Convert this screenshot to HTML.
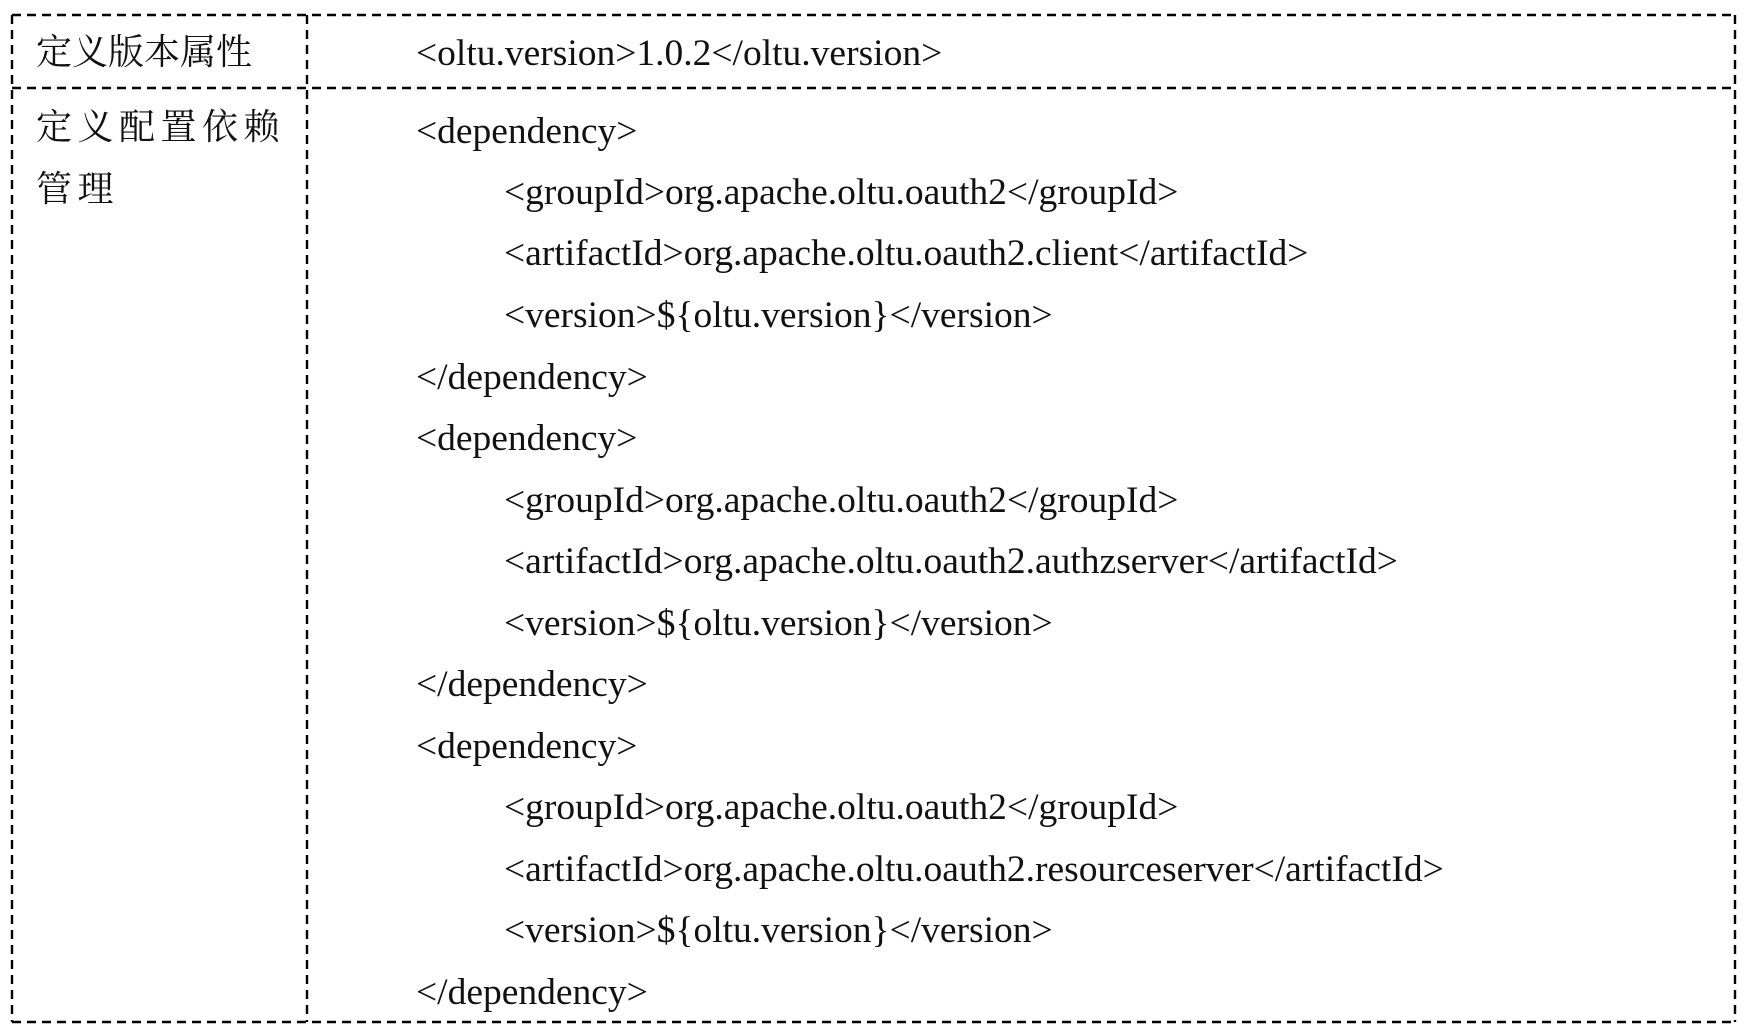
<!DOCTYPE html>
<html><head><meta charset="utf-8"><style>
html,body{margin:0;padding:0;background:#fff;width:1755px;height:1034px;overflow:hidden;position:relative}
.t{position:absolute;font-family:"Liberation Serif","Noto Serif CJK SC",serif;font-size:37.5px;color:#111;white-space:pre;line-height:40px}
.c{font-family:"Liberation Serif","Noto Serif CJK SC",serif;font-size:36px}
</style></head><body>
<svg width="1755" height="1034" style="position:absolute;left:0;top:0">
<g stroke="#000" stroke-width="2.4" stroke-dasharray="9 6" fill="none">
<line x1="12" y1="15" x2="1735" y2="15"/>
<line x1="12" y1="88" x2="1735" y2="88"/>
<line x1="12" y1="1022" x2="1735" y2="1022"/>
<line x1="12" y1="15" x2="12" y2="1022"/>
<line x1="307" y1="15" x2="307" y2="1022"/>
<line x1="1735" y1="15" x2="1735" y2="1022"/>
</g></svg>
<div class="t c" style="left:36px;top:32px">定义版本属性</div>
<div class="t c" style="left:36px;top:107px;letter-spacing:5.5px">定义配置依赖</div>
<div class="t c" style="left:36px;top:169px;letter-spacing:5.5px">管理</div>
<div class="t" style="left:416px;top:34px">&lt;oltu.version&gt;1.0.2&lt;/oltu.version&gt;</div>
<div class="t" style="left:416px;top:112px">&lt;dependency&gt;</div>
<div class="t" style="left:504px;top:173px">&lt;groupId&gt;org.apache.oltu.oauth2&lt;/groupId&gt;</div>
<div class="t" style="left:504px;top:234px">&lt;artifactId&gt;org.apache.oltu.oauth2.client&lt;/artifactId&gt;</div>
<div class="t" style="left:504px;top:296px">&lt;version&gt;${oltu.version}&lt;/version&gt;</div>
<div class="t" style="left:416px;top:358px">&lt;/dependency&gt;</div>
<div class="t" style="left:416px;top:419px">&lt;dependency&gt;</div>
<div class="t" style="left:504px;top:481px">&lt;groupId&gt;org.apache.oltu.oauth2&lt;/groupId&gt;</div>
<div class="t" style="left:504px;top:542px">&lt;artifactId&gt;org.apache.oltu.oauth2.authzserver&lt;/artifactId&gt;</div>
<div class="t" style="left:504px;top:604px">&lt;version&gt;${oltu.version}&lt;/version&gt;</div>
<div class="t" style="left:416px;top:665px">&lt;/dependency&gt;</div>
<div class="t" style="left:416px;top:727px">&lt;dependency&gt;</div>
<div class="t" style="left:504px;top:788px">&lt;groupId&gt;org.apache.oltu.oauth2&lt;/groupId&gt;</div>
<div class="t" style="left:504px;top:850px">&lt;artifactId&gt;org.apache.oltu.oauth2.resourceserver&lt;/artifactId&gt;</div>
<div class="t" style="left:504px;top:911px">&lt;version&gt;${oltu.version}&lt;/version&gt;</div>
<div class="t" style="left:416px;top:973px">&lt;/dependency&gt;</div>
</body></html>
